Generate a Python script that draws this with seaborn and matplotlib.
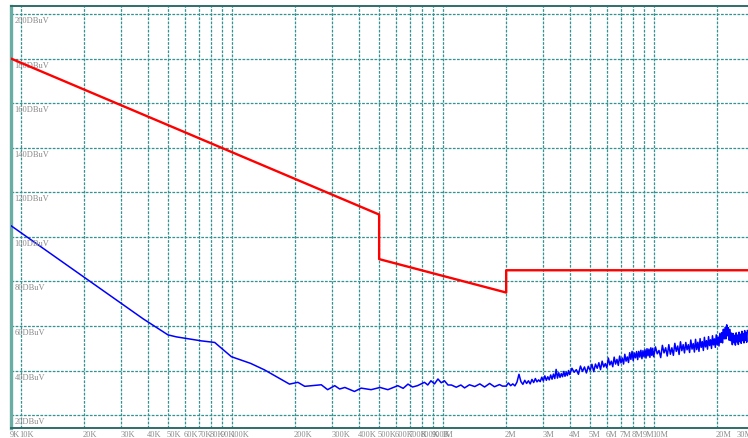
import numpy as np
import pandas as pd
import matplotlib
matplotlib.use("Agg")
import matplotlib.pyplot as plt
import seaborn as sns

# ---------------- data ----------------
# Limit line (frequency in kHz, level in dBuV)
limit_freq_khz = [9, 500, 500, 2000, 2000, 28000]
limit_level = [180, 110, 90, 75, 85, 85]

# Measured trace, low part (kHz)
meas_low_freq_khz = [9, 38.2, 49.9, 54.7, 71.9, 83.1, 99.7, 123, 143, 188, 206, 222, 266,
                     285, 308, 325, 344, 369, 382, 411, 458, 505, 550, 613, 650, 685,
                     720, 760, 820, 850, 880, 915, 950, 985, 1020, 1060, 1100, 1160,
                     1220, 1270, 1340, 1420, 1500, 1580, 1670, 1760, 1860, 1920]
meas_low_level = [105.0, 63.1, 56.0, 55.1, 53.3, 52.6, 46.2, 43.2, 40.3, 33.9, 34.7, 32.9, 33.6,
                  31.4, 33.2, 31.7, 32.4, 31.2, 30.6, 32.1, 31.4, 32.4, 31.4, 33.2, 32.0, 33.9,
                  32.6, 33.2, 34.7, 33.5, 35.4, 34.0, 36.2, 34.5, 35.4, 33.5, 33.5, 32.5,
                  33.5, 32.2, 33.6, 32.8, 34.0, 32.6, 34.2, 32.7, 33.7, 33.0]

# Measured trace, high (noisy) part (MHz)
meas_high_freq_mhz = [
    2.00, 2.05, 2.10, 2.15, 2.20, 2.25, 2.30, 2.35, 2.40, 2.45,
    2.50, 2.55, 2.60, 2.65, 2.70, 2.75, 2.80, 2.85, 2.90, 2.95,
    3.00, 3.05, 3.10, 3.15, 3.20, 3.25, 3.30, 3.35, 3.40, 3.45,
    3.50, 3.55, 3.60, 3.65, 3.70, 3.75, 3.80, 3.85, 3.90, 3.95,
    4.0, 4.1, 4.2, 4.3, 4.4, 4.5, 4.6, 4.7, 4.8, 4.9,
    5.0, 5.1, 5.2, 5.3, 5.4, 5.5, 5.6, 5.7, 5.8, 5.9,
    6.0, 6.1, 6.2, 6.3, 6.4, 6.5, 6.6, 6.7, 6.8, 6.9,
    7.0, 7.1, 7.2, 7.3, 7.4, 7.5, 7.6, 7.7, 7.8, 7.9,
    8.0, 8.1, 8.2, 8.3, 8.4, 8.5, 8.6, 8.7, 8.8, 8.9,
    9.0, 9.1, 9.2, 9.3, 9.4, 9.5, 9.6, 9.7, 9.8, 9.9,
    10.0, 10.2, 10.4, 10.6, 10.8, 11.0, 11.2, 11.4, 11.6, 11.8,
    12.0, 12.2, 12.4, 12.6, 12.8, 13.0, 13.2, 13.4, 13.6, 13.8,
    14.0, 14.2, 14.4, 14.6, 14.8, 15.0, 15.2, 15.4, 15.6, 15.8,
    16.0, 16.2, 16.4, 16.6, 16.8, 17.0, 17.2, 17.4, 17.6, 17.8,
    18.0, 18.2, 18.4, 18.6, 18.8, 19.0, 19.2, 19.4, 19.6, 19.8,
    20.0, 20.2, 20.4, 20.6, 20.8, 21.0, 21.2, 21.4, 21.6, 21.8,
    22.0, 22.2, 22.4, 22.6, 22.8, 23.0, 23.2, 23.4, 23.6, 23.8,
    24.0, 24.2, 24.4, 24.6, 24.8, 25.0, 25.2, 25.4, 25.6, 25.8,
    26.0, 26.2, 26.4, 26.6, 26.8, 27.0, 27.2, 27.4, 27.6, 27.8]
meas_high_level = [
    33.0, 34.4, 33.2, 34.0, 33.1, 34.8, 38.3, 35.0, 33.8, 35.6,
    34.2, 35.4, 34.0, 36.0, 34.6, 36.4, 34.9, 35.8, 35.0, 37.0,
    35.3, 37.6, 35.6, 37.2, 35.8, 38.0, 36.1, 38.4, 36.4, 40.5,
    36.6, 39.0, 36.9, 38.6, 37.2, 39.6, 37.4, 39.3, 37.7, 40.0,
    38.2, 41.0, 39.2, 40.4, 38.3, 42.0, 39.6, 41.6, 38.9, 41.9,
    40.1, 42.8, 39.5, 42.9, 41.0, 43.5, 40.4, 44.2, 41.6, 43.1,
    41.2, 45.6, 42.5, 44.2, 41.7, 46.0, 42.9, 45.0, 42.3, 46.5,
    43.4, 45.6, 42.9, 47.3, 44.2, 46.1, 43.6, 48.0, 45.0, 48.6,
    44.5, 47.9, 45.7, 48.5, 44.9, 48.6, 46.0, 49.1, 45.3, 48.9,
    46.2, 49.3, 45.6, 49.8, 46.6, 49.6, 45.9, 50.2, 46.8, 50.0,
    46.2, 50.6, 47.5, 49.0, 45.8, 51.3, 47.9, 50.2, 46.5, 51.6,
    47.3, 50.2, 46.8, 52.2, 48.6, 51.0, 47.2, 52.9, 48.9, 51.6,
    47.9, 52.6, 49.3, 51.6, 48.1, 53.7, 49.6, 52.1, 48.3, 54.0,
    49.4, 52.7, 48.6, 54.3, 50.4, 53.0, 49.0, 54.9, 50.6, 53.4,
    49.6, 55.2, 51.2, 53.8, 49.9, 55.6, 51.5, 54.2, 50.4, 56.0,
    51.6, 55.0, 51.0, 56.7, 52.6, 57.0, 52.4, 58.5, 54.2, 59.3,
    54.2, 60.5, 55.6, 59.2, 53.6, 58.4, 53.4, 56.8, 51.6, 56.6,
    52.5, 55.8, 51.4, 56.9, 52.8, 55.9, 51.7, 57.2, 53.0, 56.3,
    52.2, 57.6, 53.4, 56.6, 52.4, 57.9, 53.6, 56.9, 52.7, 58.0]

x_tick_values_khz = [9, 10, 20, 30, 40, 50, 60, 70, 80, 90, 100, 200, 300, 400, 500, 600, 700,
                     800, 900, 1000, 2000, 3000, 4000, 5000, 6000, 7000, 8000, 9000, 10000, 20000]
x_tick_labels = ["9K", "10K", "20K", "30K", "40K", "50K", "60K", "70K", "80K", "90K", "100K",
                 "200K", "300K", "400K", "500K", "600K", "700K", "800K", "900K", "1M", "2M",
                 "3M", "4M", "5M", "6M", "7M", "8M", "9M", "10M", "20M"]
y_tick_values = [20, 40, 60, 80, 100, 120, 140, 160, 180, 200]
y_tick_labels = ["20DBuV", "40DBuV", "60DBuV", "80DBuV", "100DBuV", "120DBuV", "140DBuV",
                 "160DBuV", "180DBuV", "200DBuV"]

# ---------------- plot ----------------
sns.set_theme(style="white")
plt.rcParams["font.family"] = ["Liberation Serif", "DejaVu Serif"]

W, H = 748, 439
fig = plt.figure(figsize=(W / 100, H / 100), dpi=100)
ax = fig.add_axes([11 / W, 10 / H, (W - 11) / W, (429 - 7) / H])

meas_freq = meas_low_freq_khz + [f * 1000 for f in meas_high_freq_mhz]
meas_level = meas_low_level + meas_high_level
df_meas = pd.DataFrame({"freq": meas_freq, "level": meas_level})
df_lim = pd.DataFrame({"freq": limit_freq_khz, "level": limit_level})

sns.lineplot(data=df_meas, x="freq", y="level", ax=ax, color="#0000FF", lw=1.1,
             estimator=None, sort=False, zorder=3)
sns.lineplot(data=df_lim, x="freq", y="level", ax=ax, color="#FF0000", lw=1.7,
             estimator=None, sort=False, zorder=4)

ax.set_xscale("log")
ax.set_xlim(9, 28000)
ax.set_ylim(14.2, 203.6)
ax.set_xlabel("")
ax.set_ylabel("")
ax.set_xticks([])
ax.set_yticks([])
ax.minorticks_off()

grid_color = "#339390"
for v in x_tick_values_khz[1:]:
    ax.axvline(v, color=grid_color, lw=0.9, ls=(0, (2.2, 1.1)), zorder=1)
for v in y_tick_values:
    ax.axhline(v, color=grid_color, lw=0.9, ls=(0, (2.2, 1.1)), zorder=1)

label_color = "#8A8A8A"
# y labels inside the plot, just below each grid line
for v, lab in zip(y_tick_values, y_tick_labels):
    ax.annotate(lab, xy=(0, v), xycoords=("axes fraction", "data"),
                xytext=(2.5, -1.5), textcoords="offset points",
                ha="left", va="top", fontsize=6, color=label_color)
# x labels left-aligned at each tick, below the axis
for v, lab in zip(x_tick_values_khz, x_tick_labels):
    ax.annotate(lab, xy=(v, 0), xycoords=("data", "axes fraction"),
                xytext=(-0.8, -1.2), textcoords="offset points",
                ha="left", va="top", fontsize=6, color=label_color, annotation_clip=False)
ax.annotate("30M", xy=(0.985, 0), xycoords="axes fraction",
            xytext=(0, -1.2), textcoords="offset points",
            ha="left", va="top", fontsize=6, color=label_color, annotation_clip=False)

ax.spines["right"].set_visible(False)
ax.spines["top"].set_color("#2F6E6A")
ax.spines["top"].set_linewidth(1.4)
ax.spines["bottom"].set_color("#2F6E6A")
ax.spines["bottom"].set_linewidth(1.4)
ax.spines["left"].set_color("#6AADA5")
ax.spines["left"].set_linewidth(2.4)

fig.savefig("out.png", dpi=100)
